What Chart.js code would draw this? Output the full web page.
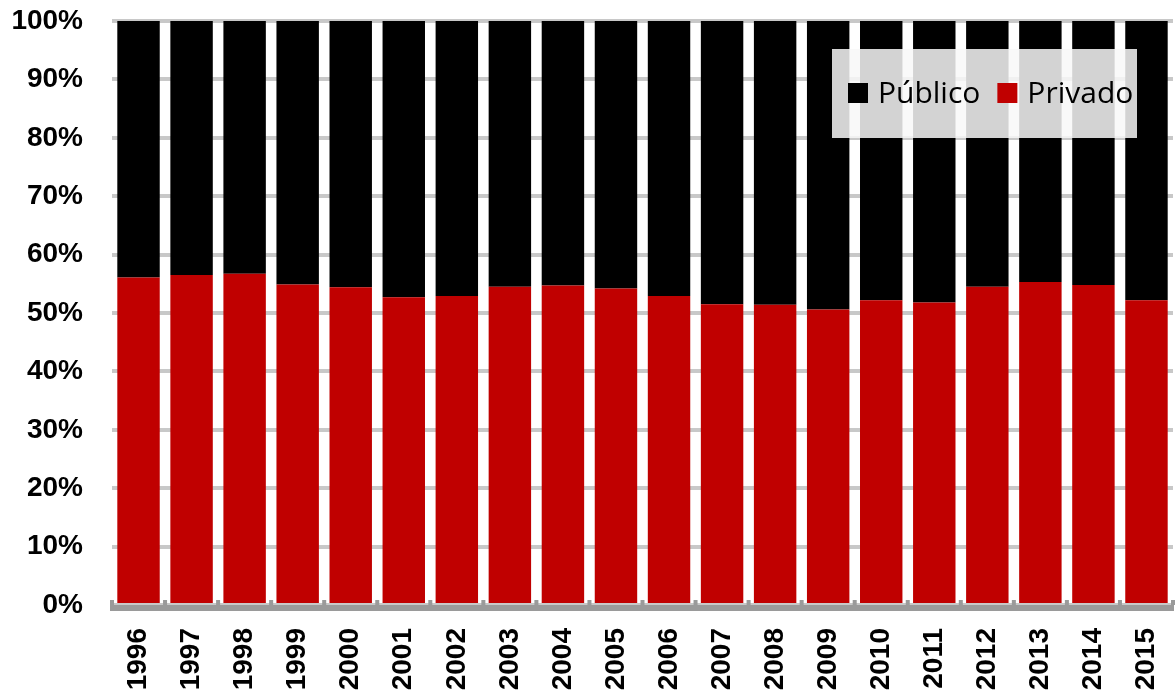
<!DOCTYPE html>
<html>
<head>
<meta charset="utf-8">
<script src="https://cdn.jsdelivr.net/npm/chart.js@4/dist/chart.umd.min.js"></script>
<style>
  html, body { margin: 0; padding: 0; background: #ffffff; }
  #wrap { width: 1175px; height: 694px; }
</style>
</head>
<body>
<div id="wrap"><canvas id="c" width="1175" height="694"></canvas></div>
<script>
const categories = ['1996','1997','1998','1999','2000','2001','2002','2003','2004','2005','2006','2007','2008','2009','2010','2011','2012','2013','2014','2015'];
const privado = [56.1, 56.5, 56.7, 54.9, 54.4, 52.7, 52.9, 54.5, 54.7, 54.2, 52.9, 51.5, 51.4, 50.6, 52.2, 51.8, 54.5, 55.3, 54.8, 52.2];
const publico = [43.9, 43.5, 43.3, 45.1, 45.6, 47.3, 47.1, 45.5, 45.3, 45.8, 47.1, 48.5, 48.6, 49.4, 47.8, 48.2, 45.5, 44.7, 45.2, 47.8];
const yTicks = [0, 10, 20, 30, 40, 50, 60, 70, 80, 90, 100];
const seriesNames = ['Público', 'Privado'];
const seriesColors = { 'Público': '#000000', 'Privado': '#c00000' };

const axisPlugin = {
  id: 'axisPlugin',
  afterDatasetsDraw(chart) {
    const ctx = chart.ctx;
    const a = chart.chartArea;
    const xs = chart.scales.x;
    ctx.save();
    ctx.fillStyle = '#9a9a9a';
    ctx.fillRect(a.left - 2, a.bottom, a.right - a.left + 3, 6);
    const n = categories.length;
    for (let i = 0; i <= n; i++) {
      let px;
      if (i === 0) px = a.left;
      else if (i === n) px = a.right;
      else px = (xs.getPixelForValue(i - 1) + xs.getPixelForValue(i)) / 2;
      ctx.fillRect(px - 2, a.bottom - 5, 4, 5);
    }
    ctx.restore();
  }
};

const legendPlugin = {
  id: 'boxLegend',
  afterDraw(chart) {
    const ctx = chart.ctx;
    const a = chart.chartArea;
    const bx = a.right - 341, by = a.top + 28, bw = 305, bh = 89;
    ctx.save();
    ctx.fillStyle = 'rgba(248,248,248,0.85)';
    ctx.fillRect(bx, by, bw, bh);
    ctx.font = '30px "Open Sans"';
    ctx.textBaseline = 'middle';
    let x = bx + 16;
    const cy = by + 44;
    seriesNames.forEach((name) => {
      ctx.fillStyle = seriesColors[name];
      ctx.fillRect(x, cy - 10, 20, 20);
      x += 30;
      ctx.fillStyle = '#000000';
      ctx.fillText(name, x, cy + 1);
      x += ctx.measureText(name).width + 17;
    });
    ctx.restore();
  }
};

new Chart(document.getElementById('c'), {
  type: 'bar',
  data: {
    labels: categories,
    datasets: [
      { label: 'Privado', data: privado, backgroundColor: seriesColors['Privado'], barPercentage: 0.8, categoryPercentage: 1.0 },
      { label: 'Público', data: publico, backgroundColor: seriesColors['Público'], barPercentage: 0.8, categoryPercentage: 1.0 }
    ]
  },
  options: {
    responsive: false,
    animation: false,
    layout: { padding: { left: 0, right: 2, top: 21, bottom: 0 } },
    plugins: { legend: { display: false }, tooltip: { enabled: false } },
    scales: {
      x: {
        stacked: true,
        grid: { display: false },
        border: { display: false },
        afterFit(scale) {
          scale.height = 89;
          scale.paddingLeft = 0; scale.paddingRight = 0;
          scale.paddingTop = 0; scale.paddingBottom = 0;
        },
        ticks: {
          minRotation: 90, maxRotation: 90,
          padding: 15,
          color: '#000000',
          font: { family: '"Liberation Sans", Arial, sans-serif', size: 28, weight: 'bold' }
        }
      },
      y: {
        stacked: true,
        min: 0, max: 100,
        afterBuildTicks(scale) { scale.ticks = yTicks.map(v => ({ value: v })); },
        afterFit(scale) {
          scale.width = 112;
          scale.paddingTop = 0; scale.paddingBottom = 0;
          scale.paddingLeft = 0; scale.paddingRight = 0;
        },
        grid: { color: '#c8c8c8', lineWidth: 4, drawTicks: false },
        border: { display: false },
        ticks: {
          padding: 29,
          color: '#000000',
          font: { family: '"Liberation Sans", Arial, sans-serif', size: 28, weight: 'bold' },
          callback: (v) => v + '%'
        }
      }
    }
  },
  plugins: [axisPlugin, legendPlugin]
});
</script>
</body>
</html>
